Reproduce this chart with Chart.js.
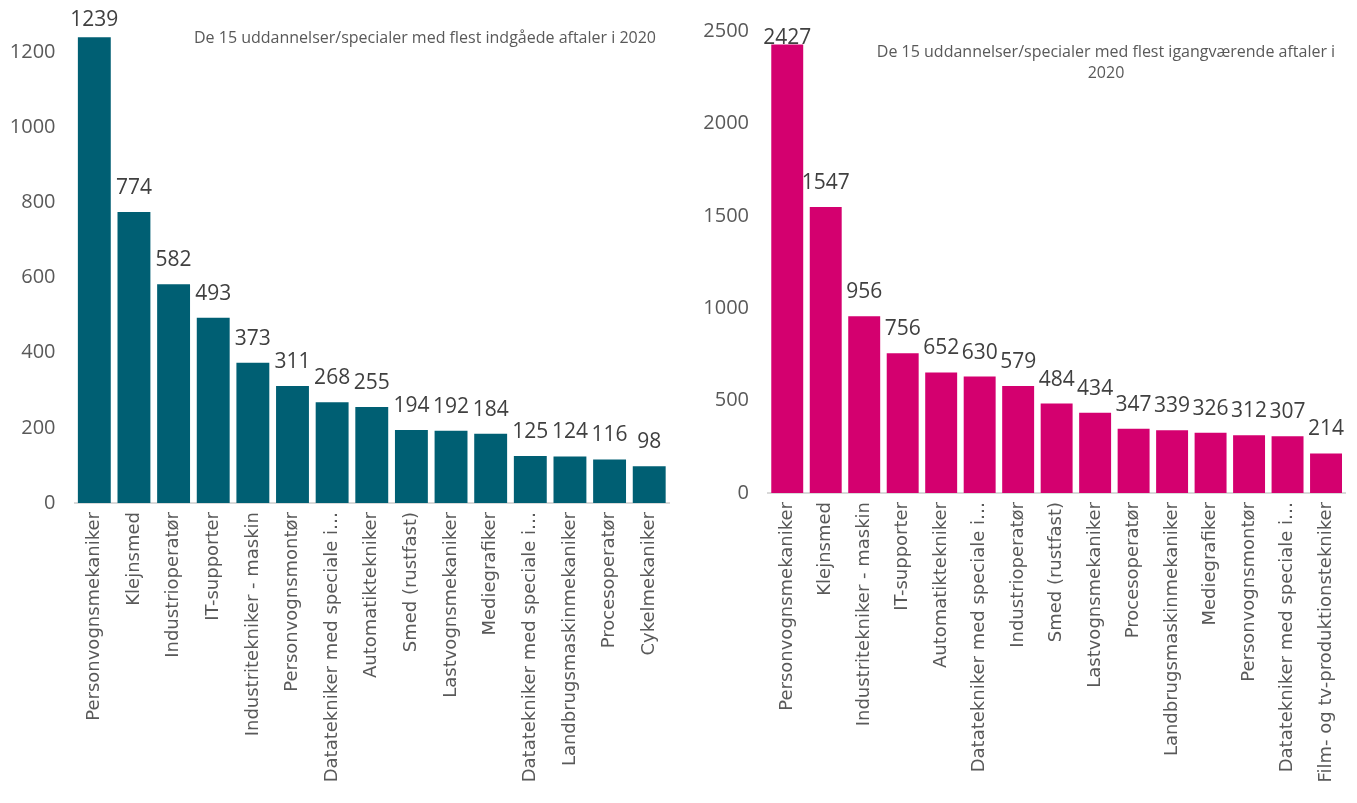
<!DOCTYPE html>
<html>
<head>
<meta charset="utf-8">
<script src="https://cdn.jsdelivr.net/npm/chart.js@4.4.1/dist/chart.umd.min.js"></script>
<style>
  html, body { margin: 0; padding: 0; background: #fff; }
  #wrap { position: relative; width: 1357px; height: 803px; }
  #left { position: absolute; left: 0; top: 0; }
  #right { position: absolute; left: 680px; top: 0; }
</style>
</head>
<body>
<div id="wrap">
  <canvas id="left" width="680" height="803"></canvas>
  <canvas id="right" width="677" height="803"></canvas>
</div>
<script>
// Indgåede aftaler 2020
const leftLabels = ['Personvognsmekaniker', 'Klejnsmed', 'Industrioperatør', 'IT-supporter',
    'Industritekniker - maskin', 'Personvognsmontør', 'Datatekniker med speciale i…',
    'Automatiktekniker', 'Smed (rustfast)', 'Lastvognsmekaniker', 'Mediegrafiker',
    'Datatekniker med speciale i…', 'Landbrugsmaskinmekaniker', 'Procesoperatør', 'Cykelmekaniker'];
const leftValues = [1239, 774, 582, 493, 373, 311, 268, 255, 194, 192, 184, 125, 124, 116, 98];
const leftTicks = [0, 200, 400, 600, 800, 1000, 1200];
const leftTitle = ['De 15 uddannelser/specialer med flest indgåede aftaler i 2020'];

// Igangværende aftaler 2020
const rightLabels = ['Personvognsmekaniker', 'Klejnsmed', 'Industritekniker - maskin', 'IT-supporter',
    'Automatiktekniker', 'Datatekniker med speciale i…', 'Industrioperatør', 'Smed (rustfast)',
    'Lastvognsmekaniker', 'Procesoperatør', 'Landbrugsmaskinmekaniker', 'Mediegrafiker',
    'Personvognsmontør', 'Datatekniker med speciale i…', 'Film- og tv-produktionstekniker'];
const rightValues = [2427, 1547, 956, 756, 652, 630, 579, 484, 434, 347, 339, 326, 312, 307, 214];
const rightTicks = [0, 500, 1000, 1500, 2000, 2500];
const rightTitle = ['De 15 uddannelser/specialer med flest igangværende aftaler i', '2020'];

// værdier over søjlerne
const barLabels = {
    id: 'barLabels',
    afterDatasetsDraw(chart, args, opts) {
        const ctx = chart.ctx;
        ctx.save();
        ctx.font = '21px "Open Sans"';
        ctx.fillStyle = '#404040';
        ctx.textAlign = 'center';
        ctx.textBaseline = 'middle';
        chart.getDatasetMeta(0).data.forEach((bar, i) => {
            const v = chart.data.datasets[0].data[i];
            const y = Math.max(bar.y - 24, opts.minY);
            ctx.fillText(v, bar.x, y);
        });
        ctx.restore();
    }
};

const innerTitle = {
    id: 'innerTitle',
    afterDraw(chart, args, opts) {
        const ctx = chart.ctx;
        ctx.save();
        ctx.font = '16px "Open Sans"';
        ctx.fillStyle = '#595959';
        ctx.textAlign = 'center';
        ctx.textBaseline = 'middle';
        opts.lines.forEach((t, i) => ctx.fillText(t, opts.x, opts.y + i * 21));
        ctx.restore();
    }
};

function makeChart(id, labels, values, ticks, color, cfg) {
    return new Chart(document.getElementById(id), {
        type: 'bar',
        data: {
            labels: labels,
            datasets: [{
                data: values,
                backgroundColor: color,
                barPercentage: 0.83,
                categoryPercentage: 1.0
            }]
        },
        options: {
            responsive: false,
            animation: false,
            layout: { padding: { top: cfg.top, right: cfg.right, left: 0, bottom: 0 } },
            plugins: {
                legend: { display: false },
                tooltip: { enabled: false },
                barLabels: { minY: cfg.minY },
                innerTitle: cfg.title
            },
            scales: {
                x: {
                    grid: { display: false, drawTicks: false },
                    border: { color: '#d9d9d9', width: 2 },
                    ticks: {
                        minRotation: 90, maxRotation: 90, autoSkip: false, padding: 9,
                        color: '#595959', font: { family: '"DejaVu Sans"', size: 18 }
                    },
                    afterFit(scale) { scale.height = cfg.xHeight; }
                },
                y: {
                    min: 0, max: cfg.max,
                    grid: { display: false, drawTicks: false },
                    border: { display: false },
                    afterBuildTicks(scale) { scale.ticks = ticks.map(v => ({ value: v })); },
                    ticks: {
                        padding: 19, color: '#595959', font: { family: 'Open Sans', size: 20 },
                        callback: v => String(v)
                    },
                    afterFit(scale) { scale.width = cfg.yWidth; }
                }
            }
        },
        plugins: [barLabels, innerTitle]
    });
}

makeChart('left', leftLabels, leftValues, leftTicks, '#005f73', {
    max: 1250, top: 33, right: 5.5, xHeight: 300, yWidth: 74.5, minY: 20,
    title: { lines: leftTitle, x: 425, y: 38 }
});

makeChart('right', rightLabels, rightValues, rightTicks, '#d4006f', {
    max: 2500, top: 30, right: 11, xHeight: 310, yWidth: 88, minY: 38,
    title: { lines: rightTitle, x: 426, y: 52 }
});
</script>
</body>
</html>
